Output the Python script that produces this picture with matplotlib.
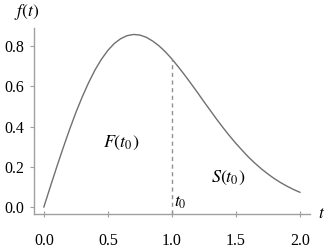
import matplotlib
matplotlib.use("Agg")
import matplotlib.pyplot as plt

plt.rcParams['font.family'] = ['Liberation Serif', 'DejaVu Serif']
plt.rcParams['mathtext.fontset'] = 'stix'

# curve
t = [0.00, 0.05, 0.10, 0.15, 0.20, 0.25, 0.30, 0.35, 0.40, 0.45,
     0.50, 0.55, 0.60, 0.65, 0.70, 0.75, 0.80, 0.85, 0.90, 0.95,
     1.00, 1.05, 1.10, 1.15, 1.20, 1.25, 1.30, 1.35, 1.40, 1.45,
     1.50, 1.55, 1.60, 1.65, 1.70, 1.75, 1.80, 1.85, 1.90, 1.95, 2.00]
f = [0.000, 0.100, 0.198, 0.293, 0.384, 0.470, 0.548, 0.619, 0.682, 0.735,
     0.779, 0.813, 0.837, 0.852, 0.858, 0.855, 0.844, 0.825, 0.801, 0.771,
     0.736, 0.697, 0.656, 0.613, 0.569, 0.524, 0.480, 0.436, 0.394, 0.354,
     0.316, 0.281, 0.247, 0.217, 0.189, 0.164, 0.141, 0.121, 0.103, 0.087, 0.073]

t0 = 1.0
f_t0 = 0.736

xticks = [0.0, 0.5, 1.0, 1.5, 2.0]
yticks = [0.0, 0.2, 0.4, 0.6, 0.8]

fig = plt.figure(figsize=(3.29, 2.48), dpi=100)
ax = fig.add_axes([0.103, 0.137, 0.839, 0.75])

ax.plot(t, f, color='#707070', linewidth=1.0)
ax.plot([t0, t0], [-0.035, f_t0], color='#909090', linewidth=1.0, linestyle=(0, (3, 2.5)))

ax.set_xlim(-0.078, 2.078)
ax.set_ylim(-0.035, 0.89)
ax.set_xticks(xticks)
ax.set_yticks(yticks)
ax.set_xticklabels([f'{v:.1f}' for v in xticks])
ax.set_yticklabels([f'{v:.1f}' for v in yticks])

for s in ['top', 'right']:
    ax.spines[s].set_visible(False)
for s in ['left', 'bottom']:
    ax.spines[s].set_color('#a0a0a0')
    ax.spines[s].set_linewidth(1.0)

ax.tick_params(axis='y', direction='out', length=3, color='#a0a0a0', labelsize=11.5, pad=4)
ax.tick_params(axis='x', direction='inout', length=4, color='#a0a0a0', labelsize=11.5, pad=12)

ax.text(0.6, 0.32, r'$F(t_0)$', fontsize=13, ha='center', va='center')
ax.text(1.44, 0.145, r'$S(t_0)$', fontsize=13, ha='center', va='center')
ax.text(1.015, 0.02, r'$t_0$', fontsize=12.5, ha='left', va='center')
fig.text(0.978, 0.137, r'$t$', fontsize=12.5, ha='center', va='center')
fig.text(0.08, 0.95, r'$f(t)$', fontsize=12.5, ha='center', va='center')

fig.savefig('out.png', dpi=100)
